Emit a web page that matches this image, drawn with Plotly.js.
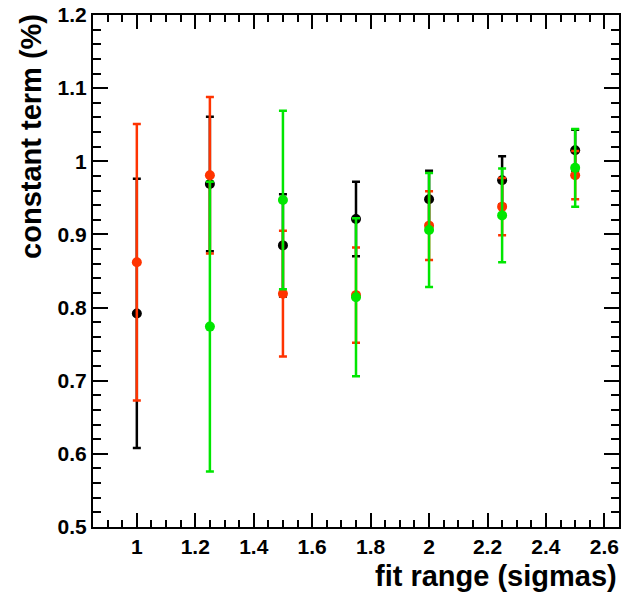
<!DOCTYPE html>
<html>
<head>
<meta charset="utf-8">
<script src="https://cdn.plot.ly/plotly-3.0.1.min.js"></script>
<style>html,body{margin:0;padding:0;background:#fff;}#chart{width:623px;height:593px;}</style>
</head>
<body>
<div id="chart"></div>
<script>
// fit range (sigmas)
var fitRange = [1, 1.25, 1.5, 1.75, 2, 2.25, 2.5];

// black series
var blackY   = [0.792, 0.969, 0.885, 0.921, 0.948, 0.974, 1.015];
var blackErr = [0.184, 0.092, 0.070, 0.051, 0.039, 0.033, 0.028];

// red series
var redY   = [0.862, 0.981, 0.819, 0.817, 0.912, 0.938, 0.981];
var redErr = [0.189, 0.107, 0.086, 0.065, 0.047, 0.039, 0.033];

// green series (no point at 1)
var greenX   = [1.25, 1.5, 1.75, 2, 2.25, 2.5];
var greenY   = [0.774, 0.947, 0.814, 0.906, 0.926, 0.991];
var greenErr = [0.198, 0.122, 0.108, 0.078, 0.064, 0.053];

var xTitle = 'fit range (sigmas)';
var yTitle = 'constant term (%)';

function series(x, y, err, color) {
  return {
    type: 'scatter', mode: 'markers', x: x, y: y,
    marker: {color: color, size: 10},
    error_y: {type: 'data', array: err, symmetric: true, color: color, thickness: 2.5, width: 4},
    showlegend: false, hoverinfo: 'skip'
  };
}

var data = [
  series(fitRange, blackY, blackErr, '#000000'),
  series(fitRange, redY, redErr, '#ff3300'),
  series(greenX, greenY, greenErr, '#00e600')
];

var tickFont = {family: 'Liberation Sans, Arial, sans-serif', size: 21, color: '#000', weight: 'bold'};
var titleFont = {family: 'Liberation Sans, Arial, sans-serif', size: 29, color: '#000'};

var layout = {
  width: 623, height: 593,
  margin: {l: 93, r: 4, t: 15, b: 66},
  paper_bgcolor: '#ffffff', plot_bgcolor: '#ffffff',
  xaxis: {
    range: [0.85, 2.65], dtick: 0.2, tick0: 0,
    ticks: 'inside', ticklen: 14, tickwidth: 2, tickcolor: '#000',
    showline: true, linewidth: 2, linecolor: '#000', mirror: 'allticks',
    showgrid: false, zeroline: false,
    tickfont: tickFont,
    minor: {dtick: 0.05, ticks: 'inside', ticklen: 7, tickwidth: 2, tickcolor: '#000', showgrid: false}
  },
  yaxis: {
    range: [0.5, 1.2], dtick: 0.1, tick0: 0,
    ticks: 'inside', ticklen: 15, tickwidth: 2, tickcolor: '#000',
    showline: true, linewidth: 2, linecolor: '#000', mirror: 'allticks',
    showgrid: false, zeroline: false,
    tickfont: tickFont, ticklabelstandoff: 0,
    minor: {dtick: 0.02, ticks: 'inside', ticklen: 8, tickwidth: 2, tickcolor: '#000', showgrid: false}
  },
  annotations: [
    {text: '<b>' + xTitle + '</b>', xref: 'paper', yref: 'paper', x: 1, y: -0.096,
     xanchor: 'right', yanchor: 'middle', showarrow: false, font: titleFont},
    {text: '<b>' + yTitle + '</b>', xref: 'paper', yref: 'paper', x: -0.117, y: 1.006,
     xanchor: 'center', yanchor: 'top', textangle: -90, showarrow: false, font: titleFont}
  ]
};

Plotly.newPlot('chart', data, layout, {staticPlot: true, displayModeBar: false});
</script>
</body>
</html>
